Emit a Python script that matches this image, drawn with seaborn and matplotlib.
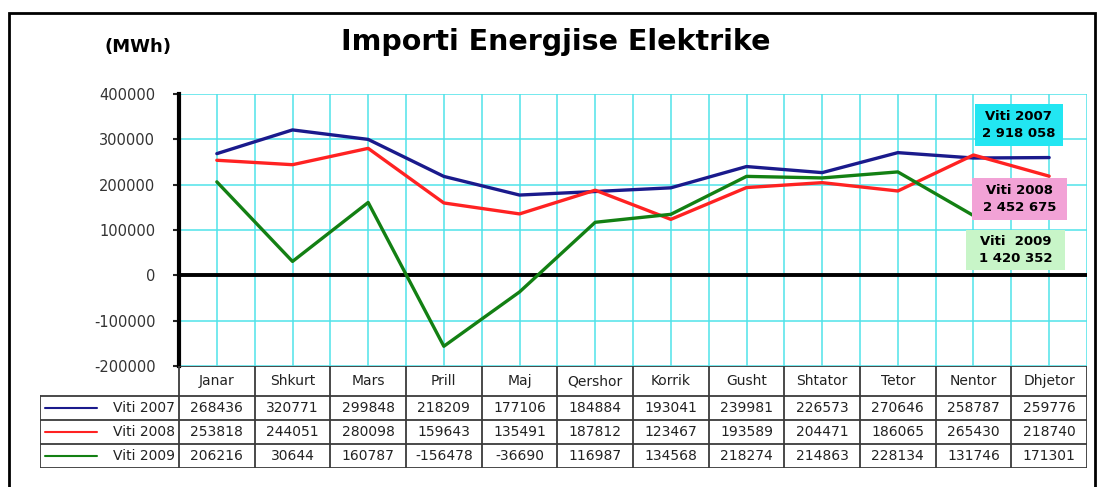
import pandas as pd
import seaborn as sns
import matplotlib.pyplot as plt
from matplotlib.patches import Rectangle

months = ["Janar", "Shkurt", "Mars", "Prill", "Maj", "Qershor", "Korrik",
          "Gusht", "Shtator", "Tetor", "Nentor", "Dhjetor"]
years = ["Viti 2007", "Viti 2008", "Viti 2009"]
v2007 = [268436, 320771, 299848, 218209, 177106, 184884, 193041, 239981, 226573, 270646, 258787, 259776]
v2008 = [253818, 244051, 280098, 159643, 135491, 187812, 123467, 193589, 204471, 186065, 265430, 218740]
v2009 = [206216, 30644, 160787, -156478, -36690, 116987, 134568, 218274, 214863, 228134, 131746, 171301]
totals = ["Viti 2007\n2 918 058", "Viti 2008\n2 452 675", "Viti  2009\n1 420 352"]
yticks = [-200000, -100000, 0, 100000, 200000, 300000, 400000]

colors = {"Viti 2007": "#1a1a8c", "Viti 2008": "#ff2222", "Viti 2009": "#138013"}
box_colors = ["#22e6f2", "#f2a2d6", "#c8f5c8"]

df = pd.DataFrame({
    "month": months * 3,
    "x": list(range(12)) * 3,
    "value": v2007 + v2008 + v2009,
    "year": [y for y in years for _ in months],
})

sns.set_style("white")
plt.rcParams["font.family"] = ["DejaVu Sans"]
plt.rcParams["axes.unicode_minus"] = False

W, H = 1102, 487
fig = plt.figure(figsize=(W / 100, H / 100), dpi=100)

# pixel layout
px_left, px_right, px_top, px_bot = 179, 1087, 94, 366
ax = fig.add_axes([px_left / W, 1 - px_bot / H, (px_right - px_left) / W, (px_bot - px_top) / H])

sns.lineplot(data=df, x="x", y="value", hue="year", palette=colors, linewidth=2.4,
             legend=False, ax=ax, zorder=3)

ax.set_xlim(-0.5, 11.5)
ax.set_ylim(-200000, 400000)
ax.set_yticks(yticks)
ax.set_yticklabels([str(t) for t in yticks], fontsize=10.5, color="#333333")
ax.set_xticks([i * 0.5 - 0.5 for i in range(25)])
ax.set_xticklabels([])
ax.tick_params(axis="x", length=0)
ax.tick_params(axis="y", length=4, width=1.5, direction="out", pad=13, left=True)
ax.grid(True, color="#4fe3ea", linewidth=1.1)
ax.set_xlabel("")
ax.set_ylabel("")
for s in ["top", "right", "bottom"]:
    ax.spines[s].set_visible(False)
ax.spines["left"].set_linewidth(3)
ax.spines["left"].set_color("black")
ax.axhline(0, color="black", linewidth=2.8, zorder=2)

# total boxes (axes-fraction extents)
boxes = [(0.8765, 0.8088, 0.097, 0.1544), (0.8732, 0.5368, 0.1047, 0.1544), (0.8666, 0.3529, 0.1091, 0.1471)]
for txt, col, (bx, by, bw, bh) in zip(totals, box_colors, boxes):
    ax.add_patch(Rectangle((bx, by), bw, bh, transform=ax.transAxes, facecolor=col,
                           edgecolor="none", zorder=5, clip_on=False))
    ax.text(bx + bw / 2, by + bh / 2, txt, transform=ax.transAxes, ha="center", va="center",
            fontsize=9.5, fontweight="bold", linespacing=1.4, zorder=6, color="black")

# data table below the plot
tbl_left, tbl_bot = 40, 468
tax = fig.add_axes([tbl_left / W, 1 - tbl_bot / H, (px_right - tbl_left) / W, (tbl_bot - px_bot) / H])
unit = (px_right - px_left) / 12
lab_x0 = -0.5 - (px_left - tbl_left) / unit
tax.set_xlim(lab_x0, 11.5)
tax.set_ylim(tbl_bot, px_bot)
tax.axis("off")
lc = "#3a3a3a"
row_edges = [366, 396, 420, 444, 468]
tax.plot([-0.5, 11.5], [row_edges[0]] * 2, color=lc, lw=1.3)
for yy in row_edges[1:]:
    tax.plot([lab_x0, 11.5], [yy, yy], color=lc, lw=1.3)
for k in range(13):
    tax.plot([k - 0.5, k - 0.5], [row_edges[0], row_edges[-1]], color=lc, lw=1.3)
tax.plot([lab_x0, lab_x0], [row_edges[1], row_edges[-1]], color=lc, lw=1.3)

for i, m in enumerate(months):
    tax.text(i, 381, m, ha="center", va="center", fontsize=10, color="#222222")

series = [v2007, v2008, v2009]
for r, (name, vals) in enumerate(zip(years, series)):
    yc = (row_edges[r + 1] + row_edges[r + 2]) / 2
    tax.plot([lab_x0 + 0.07, lab_x0 + 0.75], [yc, yc], color=colors[name], lw=1.5)
    tax.text(-0.55, yc, name, ha="right", va="center", fontsize=10, color="#222222")
    for i, v in enumerate(vals):
        tax.text(i, yc, str(v), ha="center", va="center", fontsize=10, color="#222222")

# titles
fig.text(0.504, 0.913, "Importi Energjise Elektrike", ha="center", va="center",
         fontsize=20.5, fontweight="bold", color="black")
fig.text(0.125, 0.904, "(MWh)", ha="center", va="center", fontsize=13, fontweight="bold",
         color="black")

# outer frame
fig.patches.append(Rectangle((9 / W, -0.05), (1095 - 9) / W, 1.05 - 13 / H,
                             transform=fig.transFigure, fill=False,
                             edgecolor="black", linewidth=2))

fig.savefig("out.png", dpi=100)
